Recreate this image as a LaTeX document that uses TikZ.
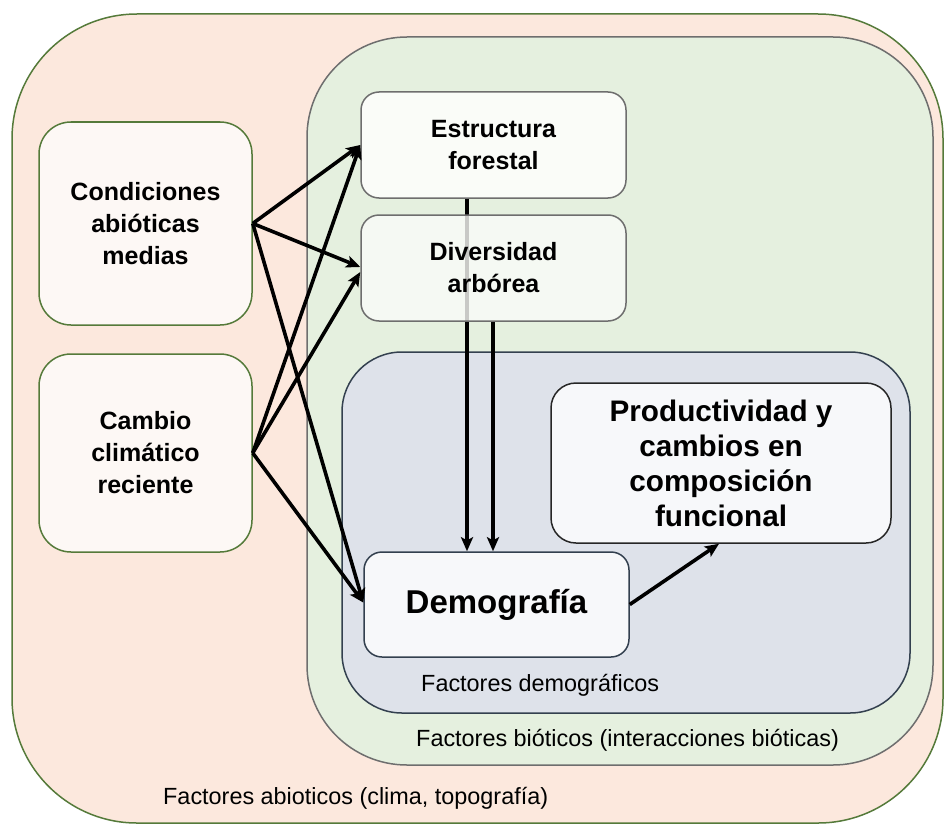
\documentclass[tikz,border=0pt]{standalone}
\usepackage{fontspec}
\setmainfont{Liberation Sans}
\usetikzlibrary{arrows.meta}

\definecolor{abioFill}{HTML}{FCE8DD}
\definecolor{abioLine}{HTML}{557A3A}
\definecolor{bioFill}{HTML}{E5F0DF}
\definecolor{bioLine}{HTML}{6E6E6E}
\definecolor{demFill}{HTML}{DEE2EA}
\definecolor{demLine}{HTML}{33404F}
\definecolor{leftFill}{HTML}{FDF8F5}
\definecolor{midFill}{HTML}{FAFCF8}
\definecolor{innerFill}{HTML}{F7F8FA}

\tikzset{
  zone/.style={rectangle, line width=1.5pt},
  factorbox/.style={rectangle, line width=1.5pt, align=center,
    font=\bfseries\fontsize{25}{32}\selectfont},
  arr/.style={line width=3.6pt, -{Stealth[length=14pt,width=12pt,inset=3pt]}},
  zonelabel/.style={anchor=base west, inner sep=0pt,
    font=\fontsize{23.4}{28}\selectfont},
}

\begin{document}
\begin{tikzpicture}[x=1pt, y=-1pt]
  \useasboundingbox (0,0) rectangle (944,824);

  % nested context zones
  \node[zone, draw=abioLine, fill=abioFill, rounded corners=125pt,
        minimum width=931pt, minimum height=809pt] (abio) at (477.5,418.5) {};
  \node[zone, draw=bioLine, fill=bioFill, rounded corners=100pt,
        minimum width=626pt, minimum height=728pt] (bio) at (620,401) {};
  \node[zone, draw=demLine, fill=demFill, rounded corners=60pt,
        minimum width=568pt, minimum height=361pt] (dem) at (626,532.5) {};

  % zone captions
  \node[zonelabel] (labdem) at (421,691) {Factores demográficos};
  \node[zonelabel] (labbio) at (416,746) {Factores bióticos (interacciones bióticas)};
  \node[zonelabel] (lababio) at (163,804) {Factores abioticos (clima, topografía)};

  % abiotic drivers
  \node[factorbox, draw=abioLine, fill=leftFill, rounded corners=32pt,
        minimum width=213pt, minimum height=203pt] (cond) at (145.5,223.5)
        {Condiciones\\abióticas\\medias};
  \node[factorbox, draw=abioLine, fill=leftFill, rounded corners=32pt,
        minimum width=213pt, minimum height=198pt] (camb) at (145.5,453)
        {Cambio\\climático\\reciente};

  % forest structure box
  \node[factorbox, draw=bioLine, fill=midFill, rounded corners=18pt,
        minimum width=265pt, minimum height=106pt] (estr) at (493.5,145)
        {Estructura\\forestal};

  % demography and outcome
  \node[factorbox, draw=demLine, fill=innerFill, rounded corners=18pt,
        minimum width=265pt, minimum height=105pt,
        font=\bfseries\fontsize{33}{40}\selectfont] (demo) at (496.5,604.5)
        {Demografía};
  \node[factorbox, draw=black!85, fill=innerFill, rounded corners=25pt,
        minimum width=340pt, minimum height=160pt,
        font=\bfseries\fontsize{29.7}{35}\selectfont] (prod) at (721,463)
        {Productividad y\\cambios en\\composición\\funcional};

  % structure -> demography (runs behind the diversity box)
  \draw[arr] ([xshift=-26.5pt]estr.south) -- ([xshift=-29.5pt]demo.north);

  % tree diversity box, slightly see-through
  \node[factorbox, draw=bioLine, fill=midFill, fill opacity=0.8,
        text opacity=1, rounded corners=18pt,
        minimum width=265pt, minimum height=106pt] (div) at (493.5,268)
        {Diversidad\\arbórea};

  \draw[arr] ([xshift=-0.5pt]div.south) -- ([xshift=-3.5pt]demo.north);

  % abiotic drivers -> biotic factors
  \draw[arr] (cond.east) -- (estr.west);
  \draw[arr] (cond.east) -- ([yshift=1pt]div.west);
  \draw[arr] (cond.east) -- ([yshift=2pt]demo.west);
  \draw[arr] (camb.east) -- (estr.west);
  \draw[arr] (camb.east) -- ([yshift=-4pt]div.west);
  \draw[arr] (camb.east) -- ([yshift=2pt]demo.west);

  % demography -> productivity
  \draw[arr] (demo.east) -- ([xshift=-2pt]prod.south);
\end{tikzpicture}
\end{document}
